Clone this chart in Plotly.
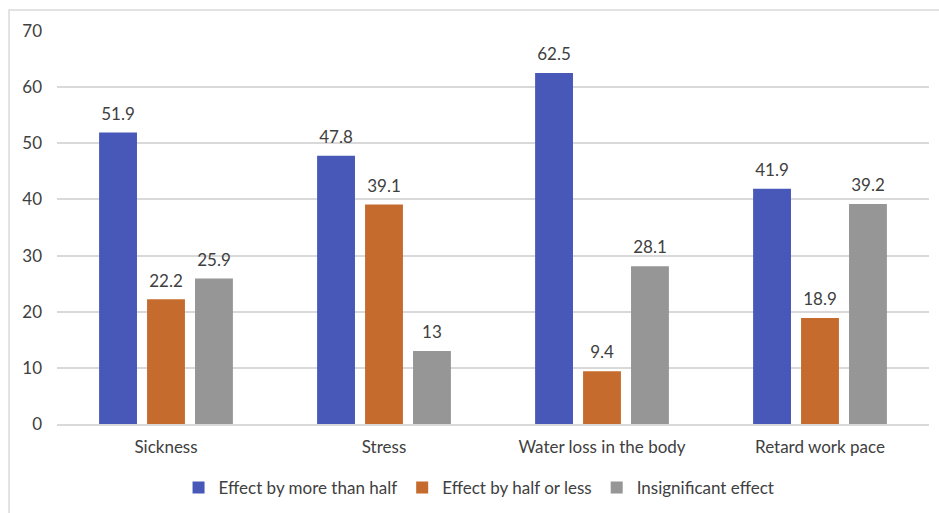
import plotly.graph_objects as go

categories = ["Sickness", "Stress", "Water loss in the body", "Retard work pace"]
series_names = ["Effect by more than half", "Effect by half or less", "Insignificant effect"]
more_than_half = [51.9, 47.8, 62.5, 41.9]
half_or_less = [22.2, 39.1, 9.4, 18.9]
insignificant = [25.9, 13, 28.1, 39.2]
y_ticks = [0, 10, 20, 30, 40, 50, 60, 70]

colors = ["#4758B8", "#C56B2D", "#969696"]
values = [more_than_half, half_or_less, insignificant]
font_family = "Lato, 'Open Sans', sans-serif"
text_color = "#404040"
fs = 17

fig = go.Figure()
for name, vals, col in zip(series_names, values, colors):
    fig.add_trace(go.Bar(
        x=categories, y=vals, name=name, marker_color=col,
        marker_line_width=0, offsetgroup=name, hoverinfo="skip",
    ))
for name, vals in zip(series_names, values):
    fig.add_trace(go.Scatter(
        x=categories, y=vals, mode="markers+text", text=[f"{v:g}" for v in vals],
        textposition="top center", marker=dict(size=12, opacity=0),
        textfont=dict(size=fs, color=text_color, family=font_family),
        showlegend=False, hoverinfo="skip", offsetgroup=name, cliponaxis=False,
    ))

fig.update_layout(
    width=939, height=513,
    margin=dict(l=57, r=10, t=31, b=89, autoexpand=False),
    barmode="group", bargap=0.34, bargroupgap=0.21,
    scattermode="group", scattergap=0.34,
    plot_bgcolor="white", paper_bgcolor="white",
    font=dict(family=font_family, size=fs, color=text_color),
    legend=dict(orientation="h", x=0.484, xanchor="center", y=-0.163, yanchor="middle",
                font=dict(size=fs, color=text_color), itemwidth=30, traceorder="normal"),
    showlegend=True,
    shapes=[dict(type="rect", xref="paper", yref="paper", x0=-0.055, x1=1.05,
                 y0=-0.3, y1=1.0534, line=dict(color="#D9D9D9", width=1.5),
                 fillcolor="rgba(0,0,0,0)", layer="below")],
)
fig.update_yaxes(range=[0, 70], tickvals=y_ticks, showgrid=True, gridcolor="#D9D9D9",
                 gridwidth=1.5, zeroline=False, showline=False, ticklabelstandoff=14,
                 tickfont=dict(size=fs, color=text_color))
fig.update_xaxes(showline=True, linecolor="#D9D9D9", linewidth=1.5, ticks="",
                 ticklabelstandoff=7, tickfont=dict(size=fs, color=text_color))

fig.write_html("out.html", config={"displayModeBar": False},
               post_script="document.body.style.margin='0';")
